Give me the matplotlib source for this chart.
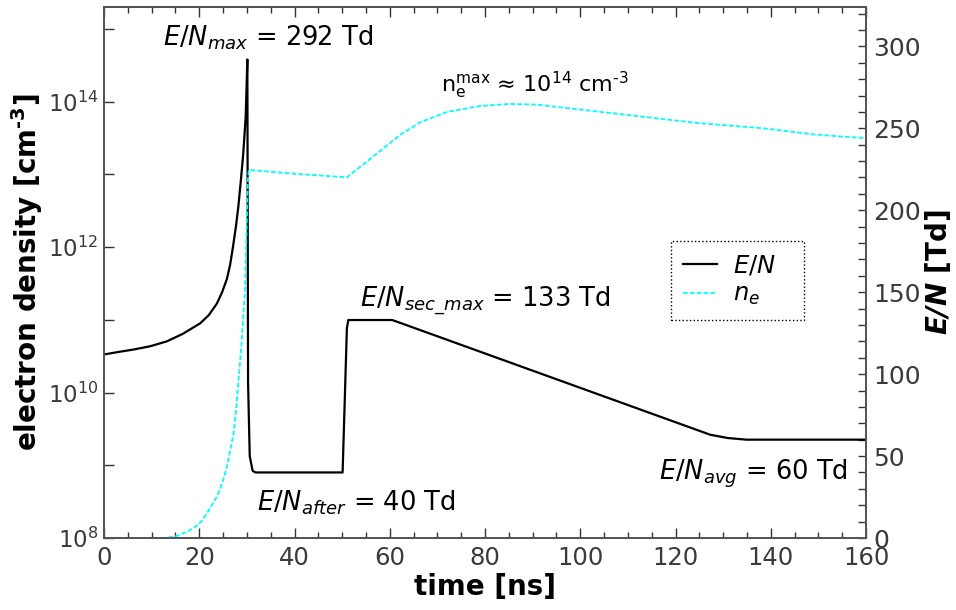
import math
import matplotlib
matplotlib.use("Agg")
import matplotlib.pyplot as plt
from matplotlib.ticker import FixedLocator, FuncFormatter, MultipleLocator, NullLocator

# ---- data ----
t_en = [0, 3.0, 6.2, 9.7, 13.2, 16.5, 20.2, 22.0, 23.7, 24.8, 25.8, 26.5,
        27.1, 27.7, 28.2, 28.7, 29.2, 29.75, 30.1,
        30.25, 30.6, 31.2, 31.8, 50.1, 51.0, 51.3, 60.5, 61.5,
        127.3, 131.0, 134.9, 160]
en = [112, 113.5, 115, 117, 120, 124.5, 131, 136, 143, 150, 158, 167,
      178, 190, 202, 217, 233, 257, 292,
      95, 50, 41, 40, 40, 128, 133, 133, 132,
      63, 61, 60, 60]

t_ne = [11.5, 12.5, 15.0, 17.4, 19.0, 20.5, 22.0, 23.7, 24.8, 25.8, 26.5,
        27.2, 27.7, 28.2, 28.6, 28.9, 29.2, 29.6, 29.8, 30.0, 30.2, 30.4,
        40.0, 51.0, 58.0, 62.2, 66.4, 72.0, 79.0, 85.2, 90.8,
        99.9, 110.4, 124.4, 138.4, 148.9, 155.2, 160]
ne = [7.9e7, 1.0e8, 1.05e8, 1.22e8, 1.4e8, 1.7e8, 2.4e8, 3.7e8, 5.6e8, 9.5e8, 1.6e9,
      2.75e9, 5.5e9, 1.35e10, 2.8e10, 5.0e10, 1.0e11, 2.5e11, 8.0e11, 2.5e12, 7.9e12, 1.15e13,
      1.02e13, 9.1e12, 2.1e13, 3.5e13, 5.2e13, 7.2e13, 8.7e13, 9.3e13, 9.1e13,
      7.8e13, 6.5e13, 5.1e13, 4.3e13, 3.55e13, 3.3e13, 3.15e13]

x_ticks = [0, 20, 40, 60, 80, 100, 120, 140, 160]
en_ticks = [0, 50, 100, 150, 200, 250, 300]
ne_decades = [8, 9, 10, 11, 12, 13, 14, 15]

# ---- figure ----
fig = plt.figure(figsize=(9.56, 6.10), dpi=100)
ax = fig.add_axes([104/956, 1-538/610, 762/956, 531/610])
ax2 = ax.twinx()
ax.set_zorder(ax2.get_zorder() + 1)
ax.patch.set_visible(False)

spine_col = "#555555"
tick_col = "#333333"

l1, = ax2.plot(t_en, en, color="black", lw=1.6, label="$E/N$")
l2, = ax.plot(t_ne, ne, color="cyan", lw=1.3, linestyle=(0, (2.6, 1.2)), label="$n_e$")

ax.set_yscale("log")
ax.set_xlim(0, 160)
ax.set_ylim(1e8, 2e15)
ax2.set_ylim(0, 324)

ax.xaxis.set_major_locator(FixedLocator(x_ticks))
ax.xaxis.set_minor_locator(MultipleLocator(5))
ax.yaxis.set_major_locator(FixedLocator([10.0**d for d in ne_decades]))
ax.yaxis.set_minor_locator(NullLocator())

def logfmt(v, pos):
    e = int(round(math.log10(v)))
    if e % 2 == 0 and e <= 14:
        return r"$\mathdefault{10^{%d}}$" % e
    return ""
ax.yaxis.set_major_formatter(FuncFormatter(logfmt))

ax2.yaxis.set_major_locator(FixedLocator(en_ticks))
ax2.yaxis.set_minor_locator(MultipleLocator(10))

ax.tick_params(axis="x", which="both", direction="in", top=True, bottom=True,
               colors=tick_col, labelcolor="#3a3a3a", labelsize=17.5, pad=6)
ax.tick_params(axis="x", which="major", length=7, width=1)
ax.tick_params(axis="x", which="minor", length=4.5, width=1)
ax.tick_params(axis="y", which="major", direction="in", left=True, right=False,
               length=7, width=1, colors=tick_col, labelcolor="#3a3a3a",
               labelsize=16.5, pad=4)
ax2.tick_params(axis="y", which="both", direction="in", right=True, left=False,
                length=5.5, width=1, colors=tick_col, labelcolor="#3a3a3a",
                labelsize=18, pad=5)

for a in (ax, ax2):
    for s in a.spines.values():
        s.set_color(spine_col)
        s.set_linewidth(1.4)

ax.set_xlabel("time [ns]", fontsize=20, fontweight="bold", labelpad=2)
ax.set_ylabel("electron density [cm$^{\\mathbf{\u20103}}$]", fontsize=20,
              fontweight="bold", labelpad=2)
ax2.set_ylabel(r"$\mathbfit{E/N}$ [Td]", fontsize=20, fontweight="bold", labelpad=2)

fs = 18.5
ax.text(0.0774, 0.928, r"$E/N_{max}$ = 292 Td", transform=ax.transAxes,
        fontsize=fs, ha="left", va="baseline")
ax.text(0.442, 0.840, "n$_\\mathrm{e}^\\mathrm{max}$ \u2248 10$^{14}$ cm$^{\u20103}$",
        transform=ax.transAxes, fontsize=16, ha="left", va="baseline")
ax.text(0.336, 0.437, r"$E/N_{sec\_max}$ = 133 Td", transform=ax.transAxes,
        fontsize=fs, ha="left", va="baseline")
ax.text(0.2003, 0.0527, r"$E/N_{after}$ = 40 Td", transform=ax.transAxes,
        fontsize=fs, ha="left", va="baseline")
ax.text(0.7288, 0.1105, r"$E/N_{avg}$ = 60 Td", transform=ax.transAxes,
        fontsize=fs, ha="left", va="baseline")

leg = ax.legend([l1, l2], ["$E/N$   ", "$n_e$"], loc="upper left",
                bbox_to_anchor=(0.744, 0.559), borderaxespad=0, fontsize=17.5,
                fancybox=False, handlelength=1.4, labelspacing=0.2,
                borderpad=0.5, handletextpad=0.65, framealpha=1)
fr = leg.get_frame()
fr.set_linestyle(":")
fr.set_edgecolor("black")
fr.set_linewidth(1.0)

fig.savefig("out.png", dpi=100)
